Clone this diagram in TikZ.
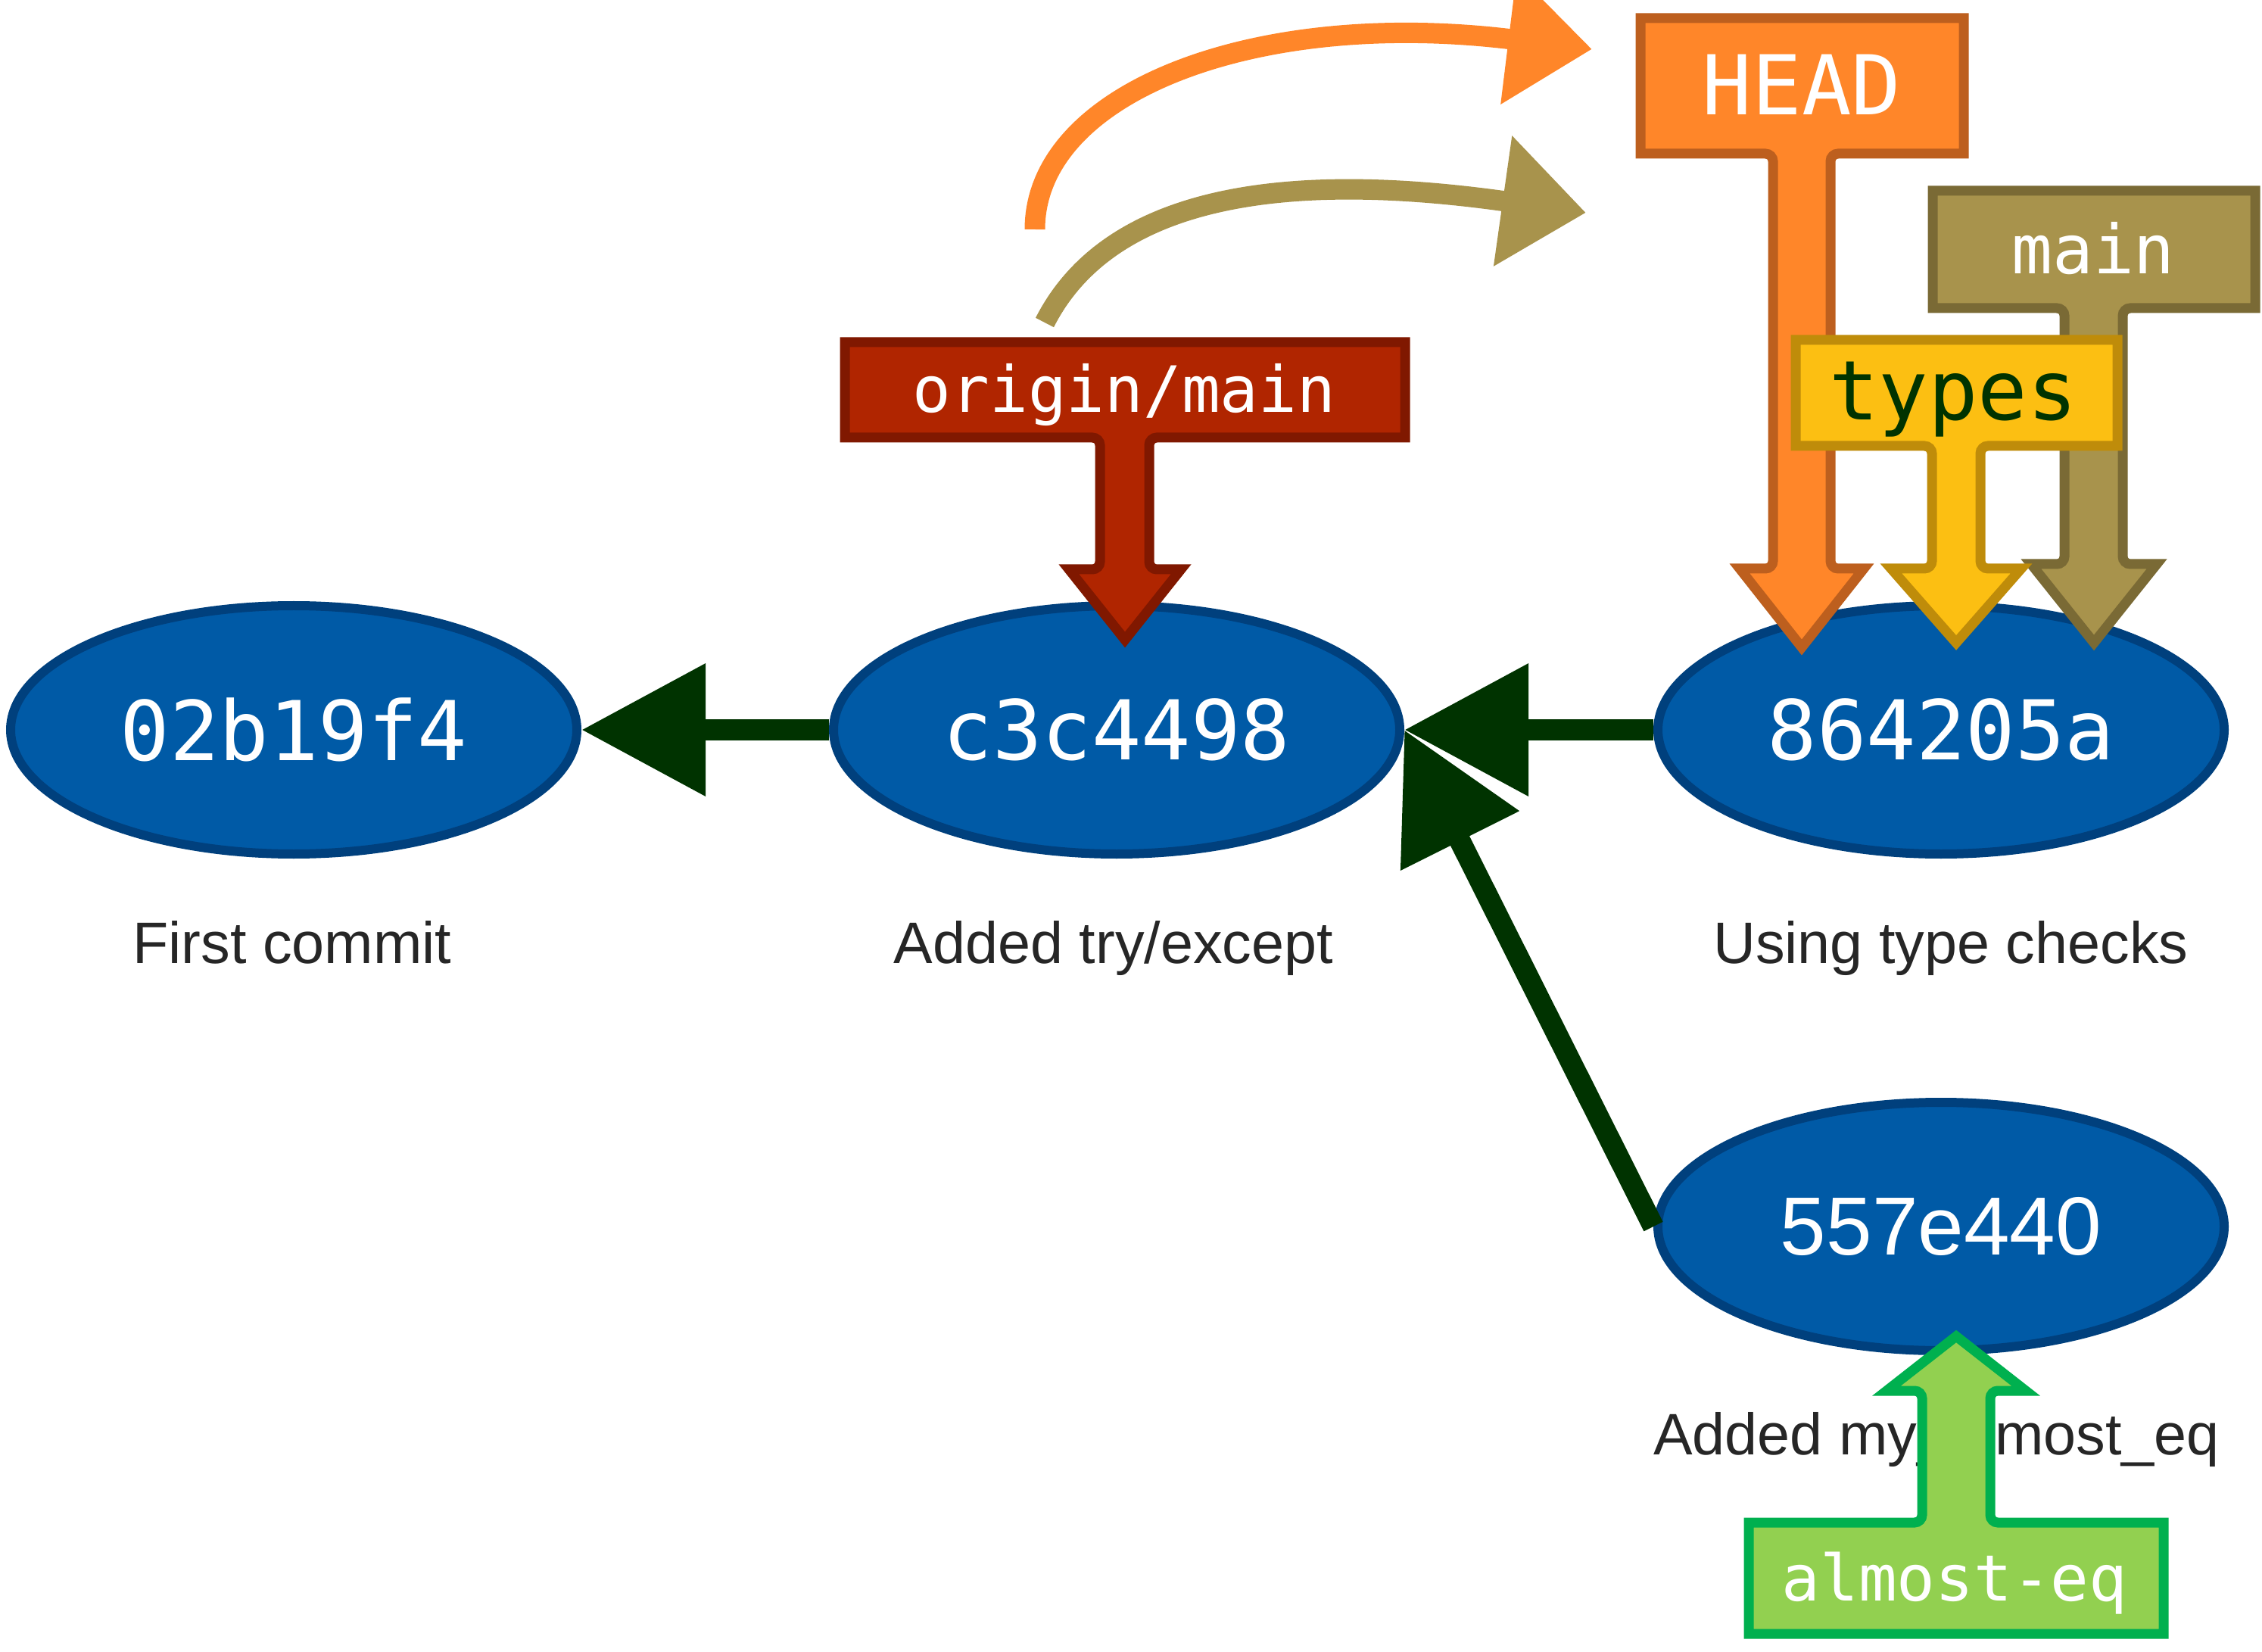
\documentclass[tikz,border=0pt]{standalone}
\usepackage{fontspec}
\usepackage{tikz}
\usetikzlibrary{positioning}
\usetikzlibrary{shapes.geometric}
\usetikzlibrary{arrows.meta}
\usepackage{xcolor}

\newfontfamily\hashfont{DejaVu Sans Mono}
\newfontfamily\msgfont{Liberation Sans}

\definecolor{commitfill}{HTML}{005AA6}
\definecolor{commitline}{HTML}{00407D}
\definecolor{linkgreen}{HTML}{003300}
\definecolor{msggray}{HTML}{262626}
\definecolor{headfill}{HTML}{FF8629}
\definecolor{headline}{HTML}{BD5F1E}
\definecolor{mainfill}{HTML}{A8934C}
\definecolor{mainline}{HTML}{7A6A35}
\definecolor{typesfill}{HTML}{FCBF12}
\definecolor{typesline}{HTML}{BF8C0A}
\definecolor{originfill}{HTML}{B02500}
\definecolor{originline}{HTML}{801800}
\definecolor{eqfill}{HTML}{92D050}
\definecolor{eqline}{HTML}{00B04F}

\begin{document}
\begin{tikzpicture}[
  commit/.style={ellipse, draw=commitline, fill=commitfill, line width=0.12cm, minimum width=7.48cm, minimum height=3.28cm, inner sep=0pt, text=white, font=\hashfont\fontsize{31}{31}\selectfont},
  msg/.style={anchor=base, text=msggray, inner sep=0pt, font=\msgfont\fontsize{22}{22}\selectfont},
  link/.style={linkgreen, line width=0.28cm, -{Triangle[length=1.64cm, width=1.68cm]}},
  branch/.style={line width=0.13cm, line join=miter},
  brtext/.style={inner sep=0pt, text=white, font=\hashfont\fontsize{#1}{#1}\selectfont},
  moved/.style={line width=0.27cm, -{Triangle[length=1.11cm, width=1.67cm]}}
]

\useasboundingbox (0,0) rectangle (29.88,21.81);

\node[commit] (c1) at (3.88,12.17) {02b19f4};
\node[commit] (c2) at (14.75,12.17) {c3c4498};
\node[commit] (c3) at (25.64,12.17) {864205a};
\node[commit, font=\msgfont\fontsize{31}{31}\selectfont] (c4) at (25.64,5.61) {557e440};

\draw[link] (c2.west) -- (c1.east);
\draw[link] (c3.west) -- (c2.east);
\draw[link] (c4.west) -- (c2.east);

\node[msg] (m1) at (3.86,9.09) {First commit};
\node[msg] (m2) at (14.71,9.09) {Added try/except};
\node[msg] (m3) at (25.77,9.09) {Using type checks};
\node[msg] (m4) at (25.58,2.60) {Added my\_almost\_eq};

\draw[branch, draw=headline, fill=headfill] (21.67,21.57)--++(4.27,0)--++(0,-1.79)[rounded corners=0.1cm]--++(-1.76,0)--++(0,-5.48)[sharp corners]--++(0.44,0)--++(-0.82,-1.04)--++(-0.82,1.04)[rounded corners=0.1cm]--++(0.44,0)--++(0,5.48)[sharp corners]--++(-1.75,0)--cycle;
\node[brtext=31] (headlbl) at (23.80,20.69) {HEAD};

\draw[branch, draw=mainline, fill=mainfill] (25.53,19.29)--++(4.26,0)--++(0,-1.55)[rounded corners=0.1cm]--++(-1.75,0)--++(0,-3.38)[sharp corners]--++(0.45,0)--++(-0.83,-1.04)--++(-0.83,1.04)[rounded corners=0.1cm]--++(0.44,0)--++(0,3.38)[sharp corners]--++(-1.74,0)--cycle;
\node[brtext=25.5] (mainlbl) at (27.65,18.53) {main};

\draw[branch, draw=typesline, fill=typesfill] (23.72,17.32)--++(4.25,0)--++(0,-1.40)[rounded corners=0.1cm]--++(-1.81,0)--++(0,-1.62)[sharp corners]--++(0.54,0)--++(-0.86,-0.98)--++(-0.86,0.98)[rounded corners=0.1cm]--++(0.54,0)--++(0,1.62)[sharp corners]--++(-1.80,0)--cycle;
\node[brtext=31, text=linkgreen] (typeslbl) at (25.80,16.53) {types};

\draw[branch, draw=originline, fill=originfill] (11.16,17.29)--++(7.40,0)--++(0,-1.26)[rounded corners=0.1cm]--++(-3.38,0)--++(0,-1.74)[sharp corners]--++(0.42,0)--++(-0.74,-0.93)--++(-0.74,0.93)[rounded corners=0.1cm]--++(0.41,0)--++(0,1.74)[sharp corners]--++(-3.37,0)--cycle;
\node[brtext=24] (originlbl) at (14.85,16.59) {origin/main};

\draw[branch, draw=eqline, fill=eqfill] (23.10,0.23)--++(5.48,0)--++(0,1.47)[rounded corners=0.1cm]--++(-2.29,0)--++(0,1.74)[sharp corners]--++(0.47,0)--++(-0.92,0.72)--++(-0.92,-0.72)[rounded corners=0.1cm]--++(0.47,0)--++(0,-1.74)[sharp corners]--++(-2.29,0)--cycle;
\node[brtext=24] (eqlbl) at (25.82,0.90) {almost-eq};

\coordinate (headfrom) at (13.67,18.78);
\coordinate (headto) at (21.03,21.16);
\coordinate (mainfrom) at (13.80,17.55);
\coordinate (mainto) at (20.95,19.00);

\draw[moved, headfill] (headfrom) .. controls (13.67,20.58) and (16.56,21.71) .. (headto);
\draw[moved, mainfill] (mainfrom) .. controls (14.66,19.24) and (16.99,19.56) .. (mainto);

\end{tikzpicture}
\end{document}
